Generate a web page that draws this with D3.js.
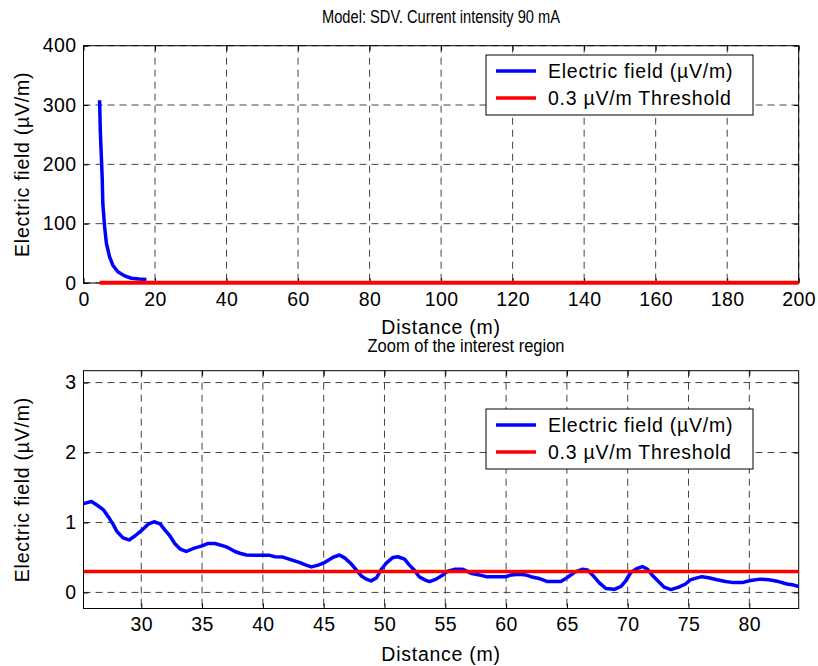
<!DOCTYPE html>
<html>
<head>
<meta charset="utf-8">
<script src="https://cdn.jsdelivr.net/npm/d3@7"></script>
<style>
  body { margin: 0; background: #fff; }
  svg text { font-family: "Liberation Sans", Arial, sans-serif; fill: #000; }
</style>
</head>
<body>
<div id="chart"></div>
<script>
(function(d3) {
  'use strict';

  // near field, the only visible blue part of the full-range panel (m, uV/m)
  var nearDistance = [4.5, 4.7, 5.0, 5.25, 5.4, 5.9, 6.4, 7.3, 8.2, 9.6, 11.5, 13.4, 15.5, 17.6];
  var nearField = [308, 257, 212, 173, 134, 95, 67, 44, 30, 19, 12, 8, 6.8, 6];

  // interest region
  var zoomDistance = [25.25, 25.9, 26.35, 26.9, 27.3, 27.7, 28.0, 28.5, 29.0, 29.5, 30.05, 30.6, 31.05, 31.55,
    31.95, 32.35, 32.75, 33.2, 33.7, 34.3, 35.0, 35.5, 36.05, 36.75, 37.15, 37.7, 38.1, 38.65, 39.6, 40.55,
    41.0, 41.65, 42.35, 43.05, 43.55, 44.0, 44.55, 45.1, 45.75, 46.3, 46.75, 47.25, 47.7, 48.1, 48.5, 48.9,
    49.35, 49.7, 50.15, 50.7, 51.1, 51.65, 52.05, 52.45, 52.85, 53.3, 53.7, 54.25, 54.8, 55.2, 55.75, 56.45,
    57.1, 57.8, 58.35, 59.15, 60.0, 60.4, 61.1, 61.6, 62.05, 62.7, 63.4, 64.5, 65.05, 65.6, 66.25, 66.7,
    67.1, 67.65, 68.2, 68.9, 69.45, 69.85, 70.25, 70.8, 71.2, 71.6, 72.0, 72.45, 73.0, 73.55, 74.2, 74.75,
    75.15, 75.55, 76.1, 76.65, 77.35, 78.05, 78.7, 79.4, 80.1, 80.9, 81.6, 82.4, 83.1, 83.65, 84.06];
  var zoomField = [1.27, 1.3, 1.25, 1.18, 1.08, 0.97, 0.87, 0.78, 0.75, 0.81, 0.89, 0.98, 1.01, 0.98,
    0.89, 0.81, 0.7, 0.62, 0.585, 0.63, 0.665, 0.7, 0.7, 0.665, 0.64, 0.585, 0.56, 0.535, 0.53, 0.53,
    0.51, 0.505, 0.465, 0.425, 0.39, 0.365, 0.39, 0.43, 0.5, 0.535, 0.49, 0.41, 0.32, 0.235, 0.19, 0.165,
    0.21, 0.32, 0.42, 0.5, 0.51, 0.475, 0.39, 0.32, 0.225, 0.18, 0.155, 0.19, 0.25, 0.305, 0.33, 0.33,
    0.275, 0.25, 0.225, 0.225, 0.225, 0.25, 0.26, 0.25, 0.225, 0.2, 0.155, 0.155, 0.215, 0.285, 0.33, 0.32,
    0.25, 0.14, 0.055, 0.045, 0.085, 0.17, 0.285, 0.345, 0.37, 0.335, 0.25, 0.17, 0.075, 0.04, 0.075, 0.12,
    0.18, 0.2, 0.225, 0.21, 0.18, 0.155, 0.14, 0.14, 0.17, 0.19, 0.18, 0.155, 0.12, 0.105, 0.085];

  var thresholdDistance = [4.5, 200];
  var thresholdValue = 0.3;

  var topXTicks = [0, 20, 40, 60, 80, 100, 120, 140, 160, 180, 200];
  var topYTicks = [0, 100, 200, 300, 400];
  var zoomXTicks = [30, 35, 40, 45, 50, 55, 60, 65, 70, 75, 80];
  var zoomYTicks = [0, 1, 2, 3];
  var legendLabels = ['Electric field (\u00b5V/m)', '0.3 \u00b5V/m Threshold'];
  var seriesColors = ['#0000ff', '#ff0000'];

  var width = 818;
  var height = 666;
  var fontSize = 19.5;
  var spacing = '0.75px';

  var svg = d3.select('#chart')
    .append('svg')
    .attr('width', width)
    .attr('height', height);

  drawPanel({
    id: 'top',
    left: 83.5, right: 798.7, top: 45.7, bottom: 283,
    xDomain: [0, 200], yDomain: [0, 400],
    xTicks: topXTicks, yTicks: topYTicks,
    xs: nearDistance, ys: nearField,
    tx: thresholdDistance, redWidth: 4,
    title: 'Model: SDV. Current intensity 90 mA', titleX: 441, titleY: 17, titleLength: 238,
    xLabelY: 327, legendY: 55
  });

  drawPanel({
    id: 'zoom',
    left: 83.5, right: 798.7, top: 370.7, bottom: 608.5,
    xDomain: [zoomDistance[0], zoomDistance[zoomDistance.length - 1]], yDomain: [-0.23, 3.17],
    xTicks: zoomXTicks, yTicks: zoomYTicks,
    xs: zoomDistance, ys: zoomField,
    tx: [zoomDistance[0], zoomDistance[zoomDistance.length - 1]], redWidth: 3.5,
    title: 'Zoom of the interest region', titleX: 466, titleY: 346, titleLength: 197,
    xLabelY: 654, legendY: 409
  });

  function drawPanel(p) {
    var w = p.right - p.left;
    var h = p.bottom - p.top;

    var x = d3.scaleLinear().domain(p.xDomain).range([0, w]);
    var y = d3.scaleLinear().domain(p.yDomain).range([h, 0]);

    var g = svg.append('g')
      .attr('transform', 'translate(' + p.left + ',' + p.top + ')');

    // clip only left/right, let line width spill over the bottom edge
    g.append('clipPath')
      .attr('id', 'clip-' + p.id)
      .append('rect')
      .attr('y', -4)
      .attr('width', w)
      .attr('height', h + 8);

    // dashed grid
    g.selectAll('.vgrid')
      .data(p.xTicks)
      .enter()
      .append('line')
      .attr('x1', function(d) { return x(d); })
      .attr('x2', function(d) { return x(d); })
      .attr('y1', 0)
      .attr('y2', h)
      .attr('stroke', '#444')
      .attr('stroke-dasharray', '7,5');

    g.selectAll('.hgrid')
      .data(p.yTicks)
      .enter()
      .append('line')
      .attr('x1', 0)
      .attr('x2', w)
      .attr('y1', function(d) { return y(d); })
      .attr('y2', function(d) { return y(d); })
      .attr('stroke', '#444')
      .attr('stroke-dasharray', '7,5');

    // box
    g.append('rect')
      .attr('width', w)
      .attr('height', h)
      .attr('fill', 'none')
      .attr('stroke', '#000');

    // axes with ticks pointing inward, mirrored on top/right
    g.append('g')
      .attr('transform', 'translate(0,' + h + ')')
      .call(d3.axisBottom(x).tickValues(p.xTicks).tickSizeInner(-5).tickSizeOuter(0).tickPadding(9)
        .tickFormat(d3.format('d')));
    g.append('g')
      .call(d3.axisLeft(y).tickValues(p.yTicks).tickSizeInner(-5).tickSizeOuter(0).tickPadding(7)
        .tickFormat(d3.format('d')));
    g.append('g')
      .call(d3.axisTop(x).tickValues(p.xTicks).tickSizeInner(-5).tickSizeOuter(0).tickFormat(''));
    g.append('g')
      .attr('transform', 'translate(' + w + ',0)')
      .call(d3.axisRight(y).tickValues(p.yTicks).tickSizeInner(-5).tickSizeOuter(0).tickFormat(''));

    g.selectAll('.domain').remove();
    g.selectAll('.tick line').attr('stroke', '#000');
    g.selectAll('.tick text')
      .style('font-size', fontSize + 'px')
      .style('letter-spacing', '0.4px')
      .style('font-family', '"Liberation Sans", Arial, sans-serif');

    var line = d3.line()
      .x(function(d) { return x(d[0]); })
      .y(function(d) { return y(d[1]); });

    var plot = g.append('g').attr('clip-path', 'url(#clip-' + p.id + ')');

    plot.append('path')
      .datum(d3.zip(p.xs, p.ys))
      .attr('d', line)
      .attr('fill', 'none')
      .attr('stroke', seriesColors[0])
      .attr('stroke-width', 3.5)
      .attr('stroke-linejoin', 'round');

    plot.append('path')
      .datum(p.tx.map(function(d) { return [d, thresholdValue]; }))
      .attr('d', line)
      .attr('fill', 'none')
      .attr('stroke', seriesColors[1])
      .attr('stroke-width', p.redWidth);

    // labels; titles are narrow in the original, squeeze them to width
    svg.append('text')
      .attr('x', p.titleX - p.titleLength / 2)
      .attr('y', p.titleY)
      .attr('dy', '0.35em')
      .attr('textLength', p.titleLength)
      .attr('lengthAdjust', 'spacingAndGlyphs')
      .style('font-size', '18px')
      .text(p.title);

    svg.append('text')
      .attr('x', p.left + w / 2)
      .attr('y', p.xLabelY)
      .attr('dy', '0.35em')
      .attr('text-anchor', 'middle')
      .style('font-size', fontSize + 'px')
      .style('letter-spacing', spacing)
      .text('Distance (m)');

    svg.append('text')
      .attr('transform', 'translate(22,' + (p.top + h / 2) + ') rotate(-90)')
      .attr('dy', '0.35em')
      .attr('text-anchor', 'middle')
      .style('font-size', fontSize + 'px')
      .style('letter-spacing', spacing)
      .text(legendLabels[0]);

    // legend
    var legend = svg.append('g')
      .attr('transform', 'translate(486,' + p.legendY + ')');

    legend.append('rect')
      .attr('width', 267)
      .attr('height', 60)
      .attr('fill', '#fff')
      .attr('stroke', '#000');

    var rows = legend.selectAll('.legend')
      .data(legendLabels)
      .enter()
      .append('g')
      .attr('transform', function(d, i) {
        return 'translate(0,' + (16 + i * 27) + ')';
      });

    rows.append('line')
      .attr('x1', 10)
      .attr('x2', 50)
      .attr('stroke', function(d, i) { return seriesColors[i]; })
      .attr('stroke-width', 3.5);

    rows.append('text')
      .attr('x', 62)
      .attr('dy', '0.35em')
      .style('font-size', fontSize + 'px')
      .style('letter-spacing', spacing)
      .text(function(d) { return d; });
  }

})(window.d3);
</script>
</body>
</html>
